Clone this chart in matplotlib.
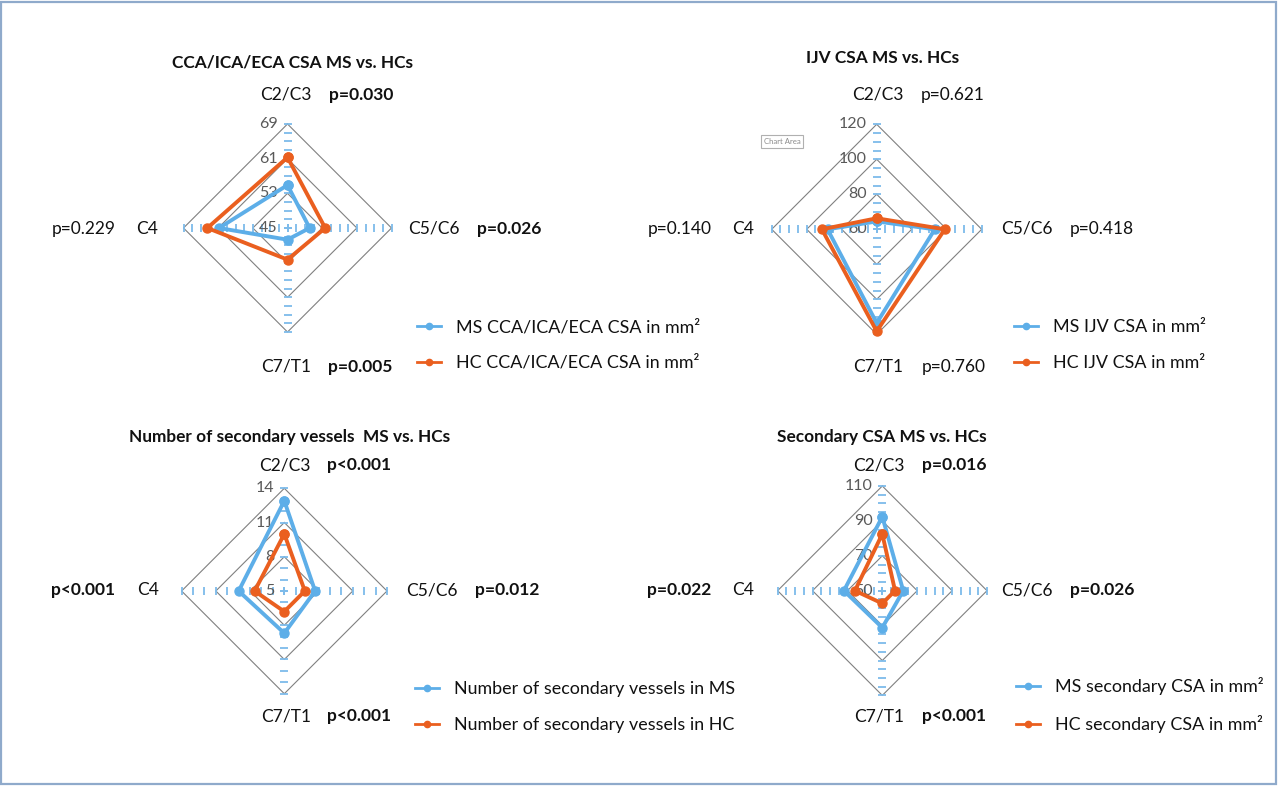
import numpy as np
import matplotlib
matplotlib.use("Agg")
import matplotlib.pyplot as plt
from matplotlib.patches import Rectangle

plt.rcParams['font.family'] = ['Lato', 'DejaVu Sans']

# ---------------- data ----------------
categories = ['C2/C3', 'C5/C6', 'C7/T1', 'C4']   # top, right, bottom, left (clockwise)

cca_ms = [54.9, 50.1, 47.7, 60.8]
cca_hc = [61.3, 53.7, 52.3, 63.5]
cca_p = ['p=0.030', 'p=0.026', 'p=0.005', 'p=0.229']
cca_bold = [True, True, True, False]
cca_ticks = [45, 53, 61, 69]

ijv_ms = [64.5, 93.2, 113.6, 88.1]
ijv_hc = [66.3, 98.9, 118.3, 91.3]
ijv_p = ['p=0.621', 'p=0.418', 'p=0.760', 'p=0.140']
ijv_bold = [False, False, False, False]
ijv_ticks = [60, 80, 100, 120]

nsv_ms = [12.9, 7.7, 8.7, 9.0]
nsv_hc = [10.0, 6.8, 6.8, 7.6]
nsv_p = ['p<0.001', 'p=0.012', 'p<0.001', 'p<0.001']
nsv_bold = [True, True, True, True]
nsv_ticks = [5, 8, 11, 14]

sec_ms = [92.4, 62.0, 71.2, 72.0]
sec_hc = [82.5, 57.3, 57.3, 65.7]
sec_p = ['p=0.016', 'p=0.026', 'p<0.001', 'p=0.022']
sec_bold = [True, True, True, True]
sec_ticks = [50, 70, 90, 110]

titles = ['CCA/ICA/ECA CSA MS vs. HCs', 'IJV CSA MS vs. HCs',
          'Number of secondary vessels  MS vs. HCs', 'Secondary CSA MS vs. HCs']
legend_ms = ['MS CCA/ICA/ECA CSA in mm²', 'MS IJV CSA in mm²',
             'Number of secondary vessels in MS', 'MS secondary CSA in mm²']
legend_hc = ['HC CCA/ICA/ECA CSA in mm²', 'HC IJV CSA in mm²',
             'Number of secondary vessels in HC', 'HC secondary CSA in mm²']

# ---------------- style ----------------
W, H = 1280, 786
BLUE = '#5DAEE8'
ORANGE = '#EA5F1F'
TICKC = '#7DBBEA'
GRIDC = '#808080'
LABC = '#595959'

fig = plt.figure(figsize=(W / 100, H / 100), dpi=100)
fig.patch.set_facecolor('white')

def fx(x):
    return x / W

def fy(y):
    return 1 - y / H

panels = [
    dict(ms=cca_ms, hc=cca_hc, p=cca_p, bold=cca_bold, ticks=cca_ticks, minor=2,
         c=(287.5, 228.0), r=104.0, title=(292, 63),
         lab=[(285.5, 95), (433.5, 229), (286.5, 367), (147, 229)],
         plab=[(361, 95), (509, 229), (360, 367), (84, 229)],
         leg=(417, 345)),
    dict(ms=ijv_ms, hc=ijv_hc, p=ijv_p, bold=ijv_bold, ticks=ijv_ticks, minor=5,
         c=(876.7, 229.3), r=105.0, title=(883, 58),
         lab=[(877.5, 95), (1026.5, 229), (878.5, 367), (743.5, 229)],
         plab=[(953, 95), (1102, 229), (954, 367), (679.5, 229)],
         leg=(1014, 345)),
    dict(ms=nsv_ms, hc=nsv_hc, p=nsv_p, bold=nsv_bold, ticks=nsv_ticks, minor=1,
         c=(284.3, 591.0), r=102.7, title=(290, 437),
         lab=[(284.5, 465), (431.5, 590), (286.5, 716), (148.5, 590)],
         plab=[(359.5, 465), (507.5, 590), (359, 716), (83.5, 590)],
         leg=(415, 707)),
    dict(ms=sec_ms, hc=sec_hc, p=sec_p, bold=sec_bold, ticks=sec_ticks, minor=5,
         c=(882.3, 590.7), r=104.7, title=(882, 437),
         lab=[(879, 465), (1026.5, 590), (879, 716), (743.5, 590)],
         plab=[(954, 465), (1102, 590), (954, 716), (679.5, 590)],
         leg=(1016, 705)),
]

angles = np.deg2rad([0, 90, 180, 270])
ang_closed = np.append(angles, angles[0])

for i, P in enumerate(panels):
    cx, cy = P['c']
    R = P['r']
    ax = fig.add_axes([fx(cx - R), fy(cy + R), 2 * R / W, 2 * R / H], projection='polar')
    ax.set_theta_zero_location('N')
    ax.set_theta_direction(-1)
    rmin, rmax = P['ticks'][0], P['ticks'][-1]
    ax.set_rlim(rmin, rmax)
    ax.set_xticks([])
    ax.set_yticks([])
    ax.grid(False)
    ax.spines['polar'].set_visible(False)
    ax.patch.set_alpha(0)

    # diamond grid rings
    for t in P['ticks'][1:]:
        ax.plot(ang_closed, [t] * 5, color=GRIDC, lw=0.8, zorder=1, clip_on=False)

    # tick dashes on the four axes
    rt = np.arange(rmin, rmax + 1e-9, P['minor'])
    for a, mk in zip(angles, ['_', '|', '_', '|']):
        ax.plot([a] * len(rt), rt, ls='none', marker=mk, ms=5.5, mew=1.3,
                color=TICKC, zorder=2, clip_on=False)

    # value labels on the top axis
    for t in P['ticks']:
        ax.annotate(str(t), xy=(0, t), xytext=(-7, 0), textcoords='offset points',
                    ha='right', va='center', fontsize=11.5, color=LABC, zorder=3)

    # data series
    ms_vals = np.append(P['ms'], P['ms'][0])
    hc_vals = np.append(P['hc'], P['hc'][0])
    l1, = ax.plot(ang_closed, ms_vals, color=BLUE, lw=2.8, marker='o', ms=6.5,
                  zorder=4, clip_on=False, label=legend_ms[i])
    l2, = ax.plot(ang_closed, hc_vals, color=ORANGE, lw=2.8, marker='o', ms=6.5,
                  zorder=5, clip_on=False, label=legend_hc[i])

    # title
    fig.text(fx(P['title'][0]), fy(P['title'][1]), titles[i], ha='center', va='center',
             fontsize=12.4, fontweight='bold', color='#111111')
    # category and p labels
    for k in range(4):
        fig.text(fx(P['lab'][k][0]), fy(P['lab'][k][1]), categories[k], ha='center',
                 va='center', fontsize=12.5, color='#111111')
        fig.text(fx(P['plab'][k][0]), fy(P['plab'][k][1]), P['p'][k], ha='center',
                 va='center', fontsize=12.5, color='#111111',
                 fontweight='bold' if P['bold'][k] else 'normal')

    # legend
    leg = fig.legend(handles=[l1, l2], loc='center left',
                     bbox_to_anchor=(fx(P['leg'][0]), fy(P['leg'][1])),
                     frameon=False, fontsize=12.9, handlelength=1.35, handletextpad=0.85,
                     labelspacing=1.1, borderpad=0, borderaxespad=0)
    for ln in leg.get_lines():
        ln.set_linewidth(2.0)
        ln.set_markersize(4.5)
    for tx in leg.get_texts():
        tx.set_color('#111111')

# "Chart Area" tooltip
fig.text(fx(782), fy(141.5), 'Chart Area', ha='center', va='center', fontsize=5.6,
         color='#8a8a8a',
         bbox=dict(boxstyle='square,pad=0.35', fc='white', ec='#b0b0b0', lw=0.8))

# outer border
fig.add_artist(Rectangle((0.001, 0.002), 0.996, 0.996, transform=fig.transFigure,
                         fill=False, ec='#8FAACB', lw=1.6))

fig.savefig('out.png', dpi=100, facecolor='white')
